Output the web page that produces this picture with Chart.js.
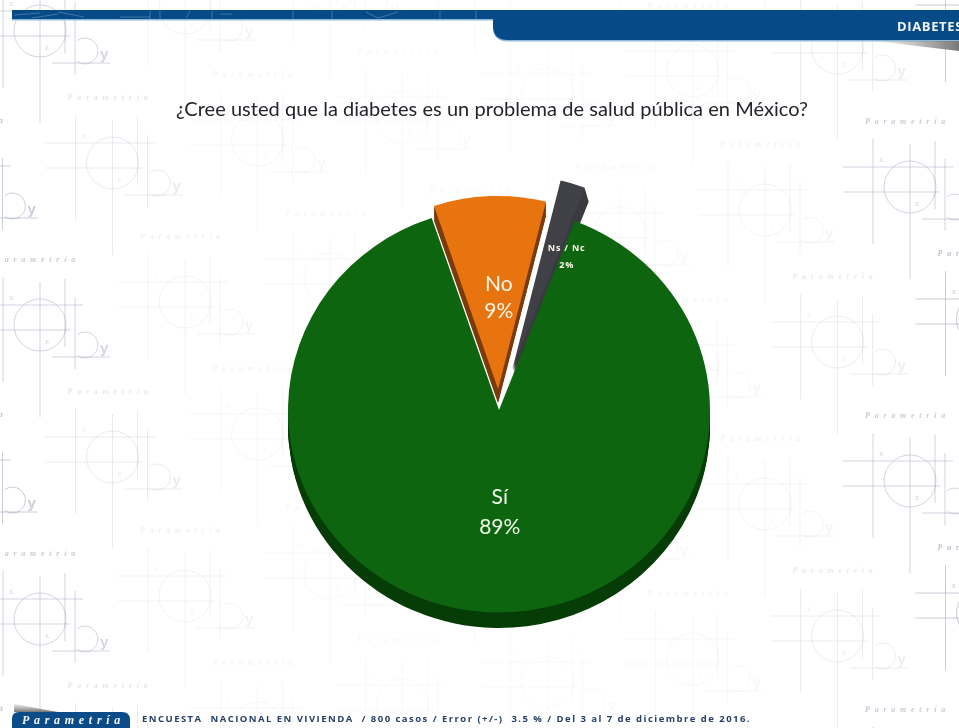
<!DOCTYPE html>
<html lang="es">
<head>
<meta charset="utf-8">
<title>Diabetes en México</title>
<script src="https://cdn.jsdelivr.net/npm/chart.js@4"></script>
<style>
  html, body { margin: 0; padding: 0; background: #fff; }
  canvas { display: block; }
</style>
</head>
<body>
<canvas id="pie" width="959" height="728"></canvas>
<script>
// Survey answers, in slice order
const answers = ['Sí', 'No', 'Ns / Nc'];
const shares = [89, 9, 2];

const questionText = '¿Cree usted que la diabetes es un problema de salud pública en México?';
const sectionText = 'DIABETES';
const brandText = 'Parametría';
const sourceText = 'ENCUESTA  NACIONAL EN VIVIENDA  / 800 casos / Error (+/-)  3.5 % / Del 3 al 7 de diciembre de 2016.';

// Slice appearance
const topColors = ['#0e650f', '#e8740f', '#404047'];
const sideColors = ['#063c06', '#7a3a0a', '#3a3a40'];
const sideShiftX = [0, 0, 4];
const sideShiftY = [16, 15, 14];
const explodePx = [0, 22, 45];
const radii = [211, 201, 202];
const labelNudgeX = [3, 5, 24];
const labelNudgeY = [1, 5, -19];
const labelSizes = [21, 21, 9];
const labelLineGap = [30, 27, 17];
const tilt = 0.96;

function fitText(ctx, text, x, y, width, font, color) {
  ctx.save();
  ctx.font = font;
  ctx.fillStyle = color;
  ctx.textAlign = 'left';
  ctx.textBaseline = 'alphabetic';
  ctx.letterSpacing = '0px';
  const natural = ctx.measureText(text).width;
  ctx.letterSpacing = ((width - natural) / text.length) + 'px';
  ctx.fillText(text, x, y);
  ctx.restore();
}

// One faint plotting motif of the letterhead, centred on its circle
function motif(ctx, cx, cy, alpha) {
  const ink = `rgba(150,156,182,${alpha})`;
  ctx.strokeStyle = ink;
  ctx.lineWidth = 1;
  const seg = (x1, y1, x2, y2) => {
    ctx.beginPath();
    ctx.moveTo(cx + x1, cy + y1);
    ctx.lineTo(cx + x2, cy + y2);
    ctx.stroke();
  };
  ctx.beginPath(); ctx.arc(cx, cy, 26, 0, Math.PI * 2); ctx.stroke();
  seg(-67, -20, 43, -20);
  seg(-67, 5, 30, 5);
  seg(-37, -48, -37, 57);
  seg(0, -43, 0, 92);
  seg(25, -46, 25, 22);
  seg(12, 32, 70, 32);
  seg(35, -28, 35, 44);
  ctx.beginPath(); ctx.arc(cx + 45, cy + 20, 13, -2.2, 2.2); ctx.stroke();
  ctx.fillStyle = ink;
  ctx.font = '9px "Liberation Serif"';
  ctx.fillText('x', cx - 31, cy - 25);
  ctx.fillText('z', cx + 5, cy + 19);
  ctx.font = 'bold 15px "Liberation Sans"';
  ctx.fillText('y', cx + 60, cy + 28);
  fitText(ctx, brandText, cx - 45, cy - 63, 85, 'italic bold 8px "Liberation Serif"', `rgba(125,130,155,${alpha})`);
}

const letterhead = {
  id: 'letterhead',
  beforeDraw(chart) {
    const ctx = chart.ctx;
    ctx.save();
    ctx.fillStyle = '#fff';
    ctx.fillRect(0, 0, 959, 728);

    // Staggered columns of motifs, strongest near both page edges
    const fade = [0.5, 0.42, 0.2, 0.12, 0.09, 0.07, 0.06, 0.06, 0.06, 0.07, 0.08, 0.11, 0.18, 0.42, 0.5];
    for (let n = -1; n <= 13; n++) {
      const x = 40 + n * 72.5;
      const base = n % 2 === 0 ? 31 - 11.5 * n : 163 - 11.5 * (n - 1);
      for (let k = -2; k <= 4; k++) {
        motif(ctx, x, base + k * 294, fade[n + 1]);
      }
    }

    // Top band
    ctx.fillStyle = '#8fb9d6';
    ctx.fillRect(12, 19, 490, 1.5);
    ctx.beginPath();
    ctx.moveTo(493, 10);
    ctx.lineTo(493, 27);
    ctx.quadraticCurveTo(493, 41.5, 508, 41.5);
    ctx.lineTo(959, 41.5);
    ctx.lineTo(959, 10);
    ctx.closePath();
    ctx.fill();
    ctx.fillStyle = '#064a87';
    ctx.fillRect(12, 10, 485, 9);
    ctx.beginPath();
    ctx.moveTo(493, 10);
    ctx.lineTo(493, 26);
    ctx.quadraticCurveTo(493, 40, 508, 40);
    ctx.lineTo(959, 40);
    ctx.lineTo(959, 10);
    ctx.closePath();
    ctx.fill();

    // Worn marks along the thin part of the band
    ctx.strokeStyle = 'rgba(200,220,235,0.3)';
    ctx.lineWidth = 1;
    for (const [x1, y1, x2, y2] of [[14,15,40,13],[32,18,58,14],[58,12,84,17],[120,17,150,17],[150,11,150,19],[160,11,160,19],[186,18,190,11],[212,11,212,19],[220,14,232,14],[293,11,293,19],[332,11,332,19],[366,12,378,18],[378,18,398,12],[440,11,440,19],[476,11,476,19]]) {
      ctx.beginPath(); ctx.moveTo(x1, y1); ctx.lineTo(x2, y2); ctx.stroke();
    }

    // Shadow under the right end of the band
    const shade = ctx.createLinearGradient(875, 0, 959, 0);
    shade.addColorStop(0, 'rgba(130,130,130,0)');
    shade.addColorStop(1, 'rgba(120,120,120,1)');
    ctx.fillStyle = shade;
    ctx.beginPath();
    ctx.moveTo(875, 41); ctx.lineTo(959, 41); ctx.lineTo(959, 51); ctx.closePath();
    ctx.fill();

    fitText(ctx, sectionText, 897, 31, 66, 'bold 13px "Open Sans"', '#f2f6fa');

    // Question
    fitText(ctx, questionText, 176, 116, 632, '20px Lato', '#23252b');

    // Footer
    const wedge = ctx.createLinearGradient(0, 704, 0, 712);
    wedge.addColorStop(0, 'rgba(170,170,170,0.3)');
    wedge.addColorStop(1, 'rgba(100,100,100,0.9)');
    ctx.fillStyle = wedge;
    ctx.beginPath();
    ctx.moveTo(14, 704); ctx.lineTo(14, 712); ctx.lineTo(58, 712); ctx.closePath();
    ctx.fill();
    ctx.fillStyle = '#0b4c88';
    ctx.beginPath();
    ctx.moveTo(12, 728);
    ctx.lineTo(12, 719);
    ctx.quadraticCurveTo(12, 712, 19, 712);
    ctx.lineTo(122, 712);
    ctx.quadraticCurveTo(130, 712, 130, 720);
    ctx.lineTo(130, 728);
    ctx.closePath();
    ctx.fill();
    fitText(ctx, brandText, 22, 724, 103, 'italic bold 12px "Liberation Serif"', '#f4f7fb');
    fitText(ctx, sourceText, 142, 722, 609, 'bold 9.5px "Open Sans"', '#27406a');
    ctx.restore();
  },
  afterDatasetsUpdate(chart) {
    // Each slice gets its own reach and is pulled out along its middle angle
    chart.getDatasetMeta(0).data.forEach((arc, i) => {
      const mid = (arc.startAngle + arc.endAngle) / 2;
      arc.outerRadius = radii[i];
      arc.x += Math.cos(mid) * explodePx[i];
      arc.y += Math.sin(mid) * explodePx[i];
    });
  },
  beforeDatasetsDraw(chart) {
    const ctx = chart.ctx;
    const arcs = chart.getDatasetMeta(0).data;
    const { x: cx, y: cy } = arcs[0];
    // The whole pie lies slightly tilted back
    ctx.save();
    ctx.translate(cx, cy);
    ctx.scale(1, tilt);
    ctx.translate(-cx, -cy);
    // Side walls under the top faces, swept from the face to the full depth
    const sweepSteps = 12;
    arcs.forEach((arc, i) => {
      const face = arc.options;
      arc.options = { ...face, backgroundColor: sideColors[i], borderWidth: 0 };
      ctx.save();
      if (i === 0) {
        // Only the lower rim of the large slice shows
        ctx.beginPath();
        ctx.rect(0, cy, 959, 728);
        ctx.clip();
      }
      for (let s = 1; s <= sweepSteps; s++) {
        ctx.save();
        ctx.translate(sideShiftX[i] * s / sweepSteps, sideShiftY[i] * s / sweepSteps);
        arc.draw(ctx);
        ctx.restore();
      }
      ctx.restore();
      arc.options = face;
    });
  },
  afterDatasetsDraw(chart) {
    const ctx = chart.ctx;
    ctx.restore();
    const arcs = chart.getDatasetMeta(0).data;
    const cy = arcs[0].y;
    arcs.forEach((arc, i) => {
      const p = arc.getCenterPoint();
      const x = p.x + labelNudgeX[i];
      const y = cy + (p.y - cy) * tilt + labelNudgeY[i];
      ctx.save();
      ctx.textAlign = 'center';
      ctx.textBaseline = 'middle';
      ctx.fillStyle = i === 0 ? '#eefce9' : '#fff6ea';
      ctx.font = i === 2 ? `bold ${labelSizes[i]}px "Open Sans"` : `${labelSizes[i]}px Lato`;
      if (i === 2) ctx.letterSpacing = '0.8px';
      ctx.fillText(answers[i], x, y - labelLineGap[i] / 2);
      ctx.fillText(shares[i] + '%', x, y + labelLineGap[i] / 2);
      ctx.restore();
    });
  }
};

new Chart(document.getElementById('pie'), {
  type: 'pie',
  data: {
    labels: answers,
    datasets: [{
      data: shares,
      backgroundColor: topColors,
      borderWidth: 0
    }]
  },
  options: {
    responsive: false,
    animation: false,
    rotation: 21,
    layout: { padding: { left: 259, right: 220, top: 170, bottom: 78 } },
    plugins: {
      legend: { display: false },
      tooltip: { enabled: false },
      title: { display: false }
    }
  },
  plugins: [letterhead]
});
</script>
</body>
</html>
